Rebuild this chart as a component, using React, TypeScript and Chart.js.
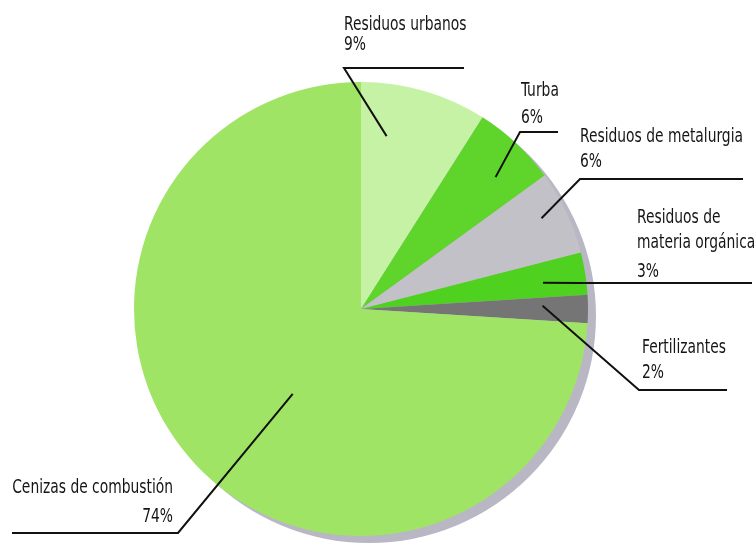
import { useEffect, useRef } from "react";
import { Chart, registerables } from "chart.js";

Chart.register(...registerables);

const categories = [
  "Residuos urbanos",
  "Turba",
  "Residuos de metalurgia",
  "Residuos de materia orgánica",
  "Fertilizantes",
  "Cenizas de combustión",
];
const values = [9, 6, 6, 3, 2, 74];
const labelTexts = [
  ["Residuos urbanos"],
  ["Turba"],
  ["Residuos de metalurgia"],
  ["Residuos de", "materia orgánica"],
  ["Fertilizantes"],
  ["Cenizas de combustión"],
];
const colors = ["#c6f2a6", "#5fd42b", "#c3c1c8", "#4fd11f", "#757575", "#a0e465"];
const shadowColor = "#b9b7c4";

// annotation layout (positions / styles only)
const labelLayout = [
  { t: 0.26, f: 0.77, elbow: [344, 68], end: 464, textX: 344, baselines: [30, 50], align: "left" },
  { t: 0.61, f: 0.83, elbow: [520, 132], end: 558, textX: 521, baselines: [96, 123], align: "left" },
  { t: 0.43, f: 0.89, elbow: [580, 179], end: 743, textX: 580, baselines: [142, 167], align: "left" },
  { t: 0.57, f: 0.81, elbow: [580, 283], end: 752, textX: 637, baselines: [223, 248, 277], align: "left" },
  { t: 0.36, f: 0.8, elbow: [639, 390], end: 727, textX: 642, baselines: [353, 378], align: "left" },
  { t: 0.47, f: 0.48, elbow: [178, 533], end: 12, textX: 173, baselines: [493, 522], align: "right" },
];

const FONT = "19px 'DejaVu Sans Condensed', 'DejaVu Sans', sans-serif";
const REF_TEXT = "Residuos de metalurgia";
const REF_WIDTH = 163;

const shadowPlugin = {
  id: "pieShadow",
  beforeDatasetsDraw(chart: any) {
    const meta = chart.getDatasetMeta(0);
    const el = meta.data[0];
    if (!el) return;
    const p = el.getProps(["x", "y", "outerRadius"], true);
    const ctx = chart.ctx;
    ctx.save();
    ctx.fillStyle = shadowColor;
    ctx.beginPath();
    ctx.arc(p.x + 8, p.y + 7, p.outerRadius, 0, Math.PI * 2);
    ctx.fill();
    ctx.restore();
  },
};

const labelPlugin = {
  id: "leaderLabels",
  afterDatasetsDraw(chart: any) {
    const meta = chart.getDatasetMeta(0);
    const ctx = chart.ctx;
    ctx.save();
    ctx.font = FONT;
    const sx = REF_WIDTH / ctx.measureText(REF_TEXT).width;
    meta.data.forEach((el: any, i: number) => {
      const L = labelLayout[i];
      const p = el.getProps(["x", "y", "startAngle", "endAngle", "outerRadius"], true);
      const a = p.startAngle + L.t * (p.endAngle - p.startAngle);
      const r = L.f * p.outerRadius;
      const ax = p.x + r * Math.cos(a);
      const ay = p.y + r * Math.sin(a);
      ctx.strokeStyle = "#111";
      ctx.lineWidth = 2;
      ctx.beginPath();
      ctx.moveTo(ax, ay);
      ctx.lineTo(L.elbow[0], L.elbow[1]);
      ctx.lineTo(L.end, L.elbow[1]);
      ctx.stroke();

      const lines = [...labelTexts[i], `${values[i]}%`];
      ctx.fillStyle = "#151515";
      ctx.font = FONT;
      ctx.textAlign = L.align;
      ctx.textBaseline = "alphabetic";
      lines.forEach((s, k) => {
        ctx.save();
        ctx.translate(L.textX, L.baselines[k]);
        ctx.scale(sx, 1);
        ctx.fillText(s, 0, 0);
        ctx.restore();
      });
    });
    ctx.restore();
  },
};

export default function App() {
  const ref = useRef<HTMLCanvasElement | null>(null);
  useEffect(() => {
    if (!ref.current) return;
    const chart = new Chart(ref.current, {
      type: "pie",
      data: {
        labels: categories,
        datasets: [
          {
            data: values,
            backgroundColor: colors,
            borderWidth: 0,
          },
        ],
      },
      options: {
        responsive: false,
        animation: false,
        layout: { padding: { left: 134, right: 168, top: 82, bottom: 7 } },
        plugins: {
          legend: { display: false },
          tooltip: { enabled: false },
        },
      },
      plugins: [shadowPlugin, labelPlugin],
    });
    return () => chart.destroy();
  }, []);
  return (
    <div style={{ position: "absolute", left: 0, top: 0, width: 756, height: 543, background: "#fff" }}>
      <canvas ref={ref} width={756} height={543} style={{ display: "block" }} />
    </div>
  );
}
